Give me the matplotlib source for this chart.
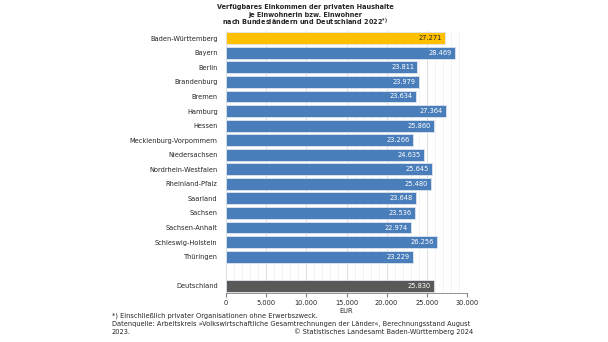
import matplotlib
matplotlib.use("Agg")
import matplotlib.pyplot as plt
from matplotlib.ticker import MultipleLocator, FuncFormatter

categories = ["Baden-Württemberg", "Bayern", "Berlin", "Brandenburg", "Bremen",
              "Hamburg", "Hessen", "Mecklenburg-Vorpommern", "Niedersachsen",
              "Nordrhein-Westfalen", "Rheinland-Pfalz", "Saarland", "Sachsen",
              "Sachsen-Anhalt", "Schleswig-Holstein", "Thüringen", "", "Deutschland"]
values = [27271, 28469, 23811, 23979, 23634, 27364, 25860, 23266, 24635,
          25645, 25480, 23648, 23536, 22974, 26256, 23229, None, 25830]
xticks = [0, 5000, 10000, 15000, 20000, 25000, 30000]

def fmt(v):
    return f"{v:,.0f}".replace(",", ".")

fig = plt.figure(figsize=(6.08, 3.42), dpi=100)
ax = fig.add_axes([226/608, 1-293/342, (467-226)/608, (293-31)/342])

fs = 4.8
for i, (c, v) in enumerate(zip(categories, values)):
    if v is None:
        continue
    if c == "Baden-Württemberg":
        col, tcol = "#FFC000", "#262626"
    elif c == "Deutschland":
        col, tcol = "#595959", "white"
    else:
        col, tcol = "#4A7EBB", "white"
    ax.barh(i, v, height=0.82, color=col, edgecolor="#dfe6ef", linewidth=0.6, zorder=3)
    ax.text(v - 400, i, fmt(v), ha="right", va="center", fontsize=fs, color=tcol, zorder=4)

ax.set_ylim(17.5, -0.5)
ax.set_xlim(0, 30000)
ax.set_yticks(range(len(categories)))
ax.set_yticklabels(categories, fontsize=fs, color="#262626")
ax.tick_params(axis="y", length=0, pad=6)
ax.set_xticks(xticks)
ax.xaxis.set_major_formatter(FuncFormatter(lambda x, p: fmt(x)))
ax.xaxis.set_minor_locator(MultipleLocator(1000))
ax.tick_params(axis="x", which="major", labelsize=fs, length=3, color="#808080", labelcolor="#262626", pad=2)
ax.tick_params(axis="x", which="minor", length=0)
ax.grid(axis="x", which="major", color="#d9d9d9", linewidth=0.6, zorder=0)
ax.grid(axis="x", which="minor", color="#efefef", linewidth=0.5, zorder=0)
for s in ["top", "right", "left"]:
    ax.spines[s].set_visible(False)
ax.spines["bottom"].set_color("#808080")
ax.spines["bottom"].set_linewidth(0.6)

ax.set_xlabel("EUR", fontsize=fs, color="#262626", labelpad=1.5)

title_lines = ["Verfügbares Einkommen der privaten Haushalte",
               "je Einwohnerin bzw. Einwohner",
               r"nach Bundesländern und Deutschland 2022$^{\mathbf{*)}}$"]
for k, line in enumerate(title_lines):
    fig.text(305/608, 1-(9.0 + 8.5*k)/342, line, ha="center", va="baseline",
             fontsize=4.7, fontweight="bold", color="#262626")

fig.text(112/608, 1-316/342, "*) Einschließlich privater Organisationen ohne Erwerbszweck.",
         ha="left", va="center", fontsize=fs, color="#262626")
fig.text(112/608, 1-324/342,
         "Datenquelle: Arbeitskreis »Volkswirtschaftliche Gesamtrechnungen der Länder«, Berechnungsstand August",
         ha="left", va="center", fontsize=fs, color="#262626")
fig.text(112/608, 1-332/342, "2023.", ha="left", va="center", fontsize=fs, color="#262626")
fig.text(473/608, 1-332/342, "© Statistisches Landesamt Baden-Württemberg 2024",
         ha="right", va="center", fontsize=fs, color="#262626")

fig.savefig("out.png", dpi=100)
